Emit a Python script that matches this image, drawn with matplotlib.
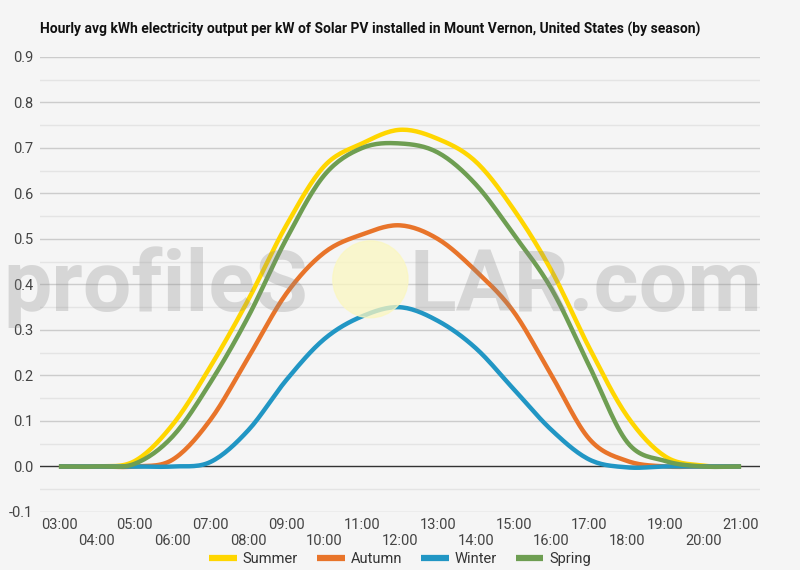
import numpy as np
import matplotlib
matplotlib.use("Agg")
from matplotlib import pyplot as plt
from matplotlib.patches import Ellipse

plt.rcParams['font.family'] = ['Roboto', 'DejaVu Sans']

hours = ["03:00", "04:00", "05:00", "06:00", "07:00", "08:00", "09:00", "10:00",
         "11:00", "12:00", "13:00", "14:00", "15:00", "16:00", "17:00", "18:00",
         "19:00", "20:00", "21:00"]

summer = [0.0, 0.0, 0.012, 0.092, 0.22, 0.367, 0.53, 0.66, 0.71, 0.74, 0.72,
          0.67, 0.565, 0.43, 0.26, 0.11, 0.022, 0.002, 0.0]
autumn = [0.0, 0.0, 0.0, 0.015, 0.103, 0.24, 0.38, 0.47, 0.51, 0.53, 0.50,
          0.43, 0.34, 0.20, 0.06, 0.012, 0.0, 0.0, 0.0]
winter = [0.0, 0.0, 0.0, 0.0, 0.01, 0.08, 0.19, 0.28, 0.33, 0.35, 0.32,
          0.26, 0.17, 0.08, 0.015, -0.002, 0.0, 0.0, 0.0]
spring = [0.0, 0.0, 0.006, 0.066, 0.185, 0.33, 0.50, 0.64, 0.70, 0.71, 0.69,
          0.62, 0.51, 0.39, 0.22, 0.053, 0.012, 0.0, 0.0]

series = [("Summer", summer, "#FFD600"),
          ("Autumn", autumn, "#E8742A"),
          ("Winter", winter, "#2196C4"),
          ("Spring", spring, "#6E9E52")]


def smooth(x, y, n=16):
    # catmull-rom style curve through the points (like the original chart)
    x = np.asarray(x, float)
    y = np.asarray(y, float)
    px = np.concatenate([[x[0]], x, [x[-1]]])
    py = np.concatenate([[y[0]], y, [y[-1]]])
    xs, ys = [], []
    t = np.linspace(0, 1, n, endpoint=False)
    for i in range(1, len(px) - 2):
        p0, p1, p2, p3 = py[i - 1], py[i], py[i + 1], py[i + 2]
        m1 = (p2 - p0) / 2
        m2 = (p3 - p1) / 2
        h00 = 2 * t**3 - 3 * t**2 + 1
        h10 = t**3 - 2 * t**2 + t
        h01 = -2 * t**3 + 3 * t**2
        h11 = t**3 - t**2
        xs.append(px[i] + t * (px[i + 1] - px[i]))
        ys.append(h00 * p1 + h10 * m1 + h01 * p2 + h11 * m2)
    xs.append([x[-1]])
    ys.append([y[-1]])
    return np.concatenate(xs), np.concatenate(ys)


bg = "#f5f5f5"
fig = plt.figure(figsize=(8, 5.7), dpi=100, facecolor=bg)
ax = fig.add_axes([0.05, 0.1018, 0.90, 0.7982])
ax.set_facecolor(bg)

xpos = np.arange(len(hours))
for name, vals, col in series:
    sx, sy = smooth(xpos, vals)
    ax.plot(sx, sy, color=col, lw=3.2, label=name, solid_capstyle='butt', zorder=3)

ax.set_xlim(-0.5, len(hours) - 0.5)
ax.set_ylim(-0.1, 0.9)
yt = np.arange(-0.1, 0.91, 0.1)
ax.set_yticks(yt)
ax.set_yticklabels(["%.1f" % v for v in yt])
for v in yt:
    if abs(v) > 1e-9:
        ax.axhline(v, color="#cccccc", lw=1, zorder=1)
for v in np.arange(-0.05, 0.9, 0.1):
    ax.axhline(v, color="#e4e4e4", lw=1, zorder=1)
ax.axhline(0, color="#333333", lw=1, zorder=2)

ax.set_xticks(xpos)
ax.set_xticklabels([h if i % 2 == 0 else "\n" + h for i, h in enumerate(hours)])
ax.tick_params(axis='both', length=0, labelsize=10.5, colors="#444444")
ax.tick_params(axis='x', pad=4)
ax.tick_params(axis='y', pad=5)
for s in ax.spines.values():
    s.set_visible(False)

# watermark
fig.text(0.004, 0.455, "profileS", fontsize=62, fontweight='bold', color="#888888",
         alpha=0.28, ha='left', va='baseline', zorder=10)
fig.text(0.512, 0.455, "LAR.com", fontsize=62, fontweight='bold', color="#888888",
         alpha=0.28, ha='left', va='baseline', zorder=10)
fig.patches.append(Ellipse((0.463, 0.51), 0.094, 0.135, transform=fig.transFigure,
                           color="#fbf7c0", alpha=0.75, zorder=9))

fig.text(0.05, 0.948, "Hourly avg kWh electricity output per kW of Solar PV installed in Mount Vernon, United States (by season)",
         fontsize=10, fontweight='bold', color="#111111", ha='left', va='center')

leg = fig.legend(loc='center', bbox_to_anchor=(0.5, 0.019), ncol=4, frameon=False,
                 fontsize=10.5, handlelength=1.9, handletextpad=0.4, columnspacing=1.3,
                 labelcolor="#333333")
for l in leg.get_lines():
    l.set_linewidth(4.5)

fig.savefig("out.png", dpi=100, facecolor=bg)
